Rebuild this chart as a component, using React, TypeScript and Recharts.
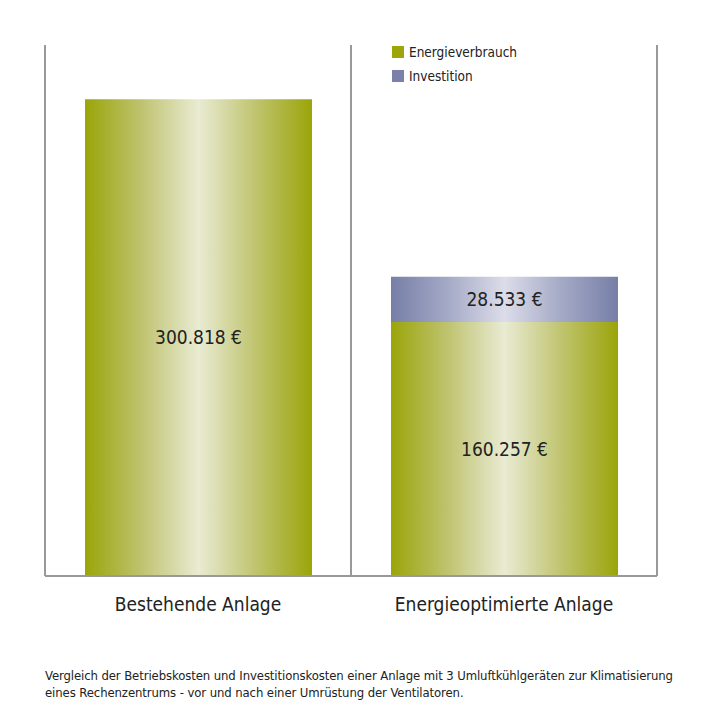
import { BarChart, Bar, XAxis, YAxis, CartesianGrid, LabelList } from 'recharts'

const categories = ['Bestehende Anlage', 'Energieoptimierte Anlage']
const energie = [300818, 160257]
const investition = [0, 28533]

const data = categories.map((name, i) => ({
  name,
  Energieverbrauch: energie[i],
  Investition: investition[i] || null,
}))

const FONT = "'DejaVu Sans', sans-serif"
const GREEN = '#9ca60b'
const PURPLE = '#7a80a9'

const euro = (v: any) => (v ? String(v).replace(/\B(?=(\d{3})+(?!\d))/g, '.') + ' €' : '')

const textStyle = { fontSize: 19, fill: '#222', fontFamily: FONT, fontStretch: 'condensed' } as any

function LegendBox() {
  const items = [
    { label: 'Energieverbrauch', color: GREEN },
    { label: 'Investition', color: PURPLE },
  ]
  return (
    <div style={{ position: 'absolute', left: 392, top: 40 }}>
      {items.map(it => (
        <div key={it.label} style={{ display: 'flex', alignItems: 'center', height: 24, fontSize: 13.5, color: '#222' }}>
          <span style={{ width: 12, height: 12, background: it.color, marginRight: 5, display: 'inline-block' }} />
          {it.label}
        </div>
      ))}
    </div>
  )
}

export default function App() {
  return (
    <div style={{ position: 'absolute', left: 0, top: 0, width: 719, height: 719, background: '#fff', fontFamily: FONT, fontStretch: 'condensed' }}>
      <BarChart width={719} height={640} data={data} margin={{ top: 45, right: 62, bottom: 24, left: 45 }} barSize={227}>
        <defs>
          <linearGradient id="gGreen" x1="0" y1="0" x2="1" y2="0">
            <stop offset="0%" stopColor="#9aa509" />
            <stop offset="25%" stopColor="#bfc36f" />
            <stop offset="50%" stopColor="#e9ebd3" />
            <stop offset="75%" stopColor="#c0c46f" />
            <stop offset="100%" stopColor="#9aa509" />
          </linearGradient>
          <linearGradient id="gPurple" x1="0" y1="0" x2="1" y2="0">
            <stop offset="0%" stopColor="#777fa7" />
            <stop offset="25%" stopColor="#a4a9c6" />
            <stop offset="50%" stopColor="#dcdde9" />
            <stop offset="75%" stopColor="#a4a9c6" />
            <stop offset="100%" stopColor="#777fa7" />
          </linearGradient>
        </defs>
        <CartesianGrid
          horizontal={false}
          stroke="#999"
          strokeWidth={2}
          verticalCoordinatesGenerator={({ offset }: any) => [
            offset.left,
            offset.left + offset.width / 2,
            offset.left + offset.width,
          ]}
        />
        <XAxis
          dataKey="name"
          height={40}
          axisLine={{ stroke: '#999', strokeWidth: 2 }}
          tickLine={false}
          tickMargin={16}
          tick={textStyle}
        />
        <YAxis hide domain={[0, 335000]} />
        <Bar dataKey="Energieverbrauch" stackId="a" fill="url(#gGreen)" isAnimationActive={false}>
          <LabelList dataKey="Energieverbrauch" position="center" formatter={euro} style={textStyle} />
        </Bar>
        <Bar dataKey="Investition" stackId="a" fill="url(#gPurple)" isAnimationActive={false}>
          <LabelList dataKey="Investition" position="center" formatter={euro} style={textStyle} />
        </Bar>
      </BarChart>
      <LegendBox />
      <div style={{ position: 'absolute', left: 45, top: 667, width: 674, fontSize: 13, letterSpacing: -0.1, lineHeight: '17px', color: '#222', whiteSpace: 'nowrap' }}>
        Vergleich der Betriebskosten und Investitionskosten einer Anlage mit 3 Umluftkühlgeräten zur Klimatisierung
        <br />
        eines Rechenzentrums - vor und nach einer Umrüstung der Ventilatoren.
      </div>
    </div>
  )
}
